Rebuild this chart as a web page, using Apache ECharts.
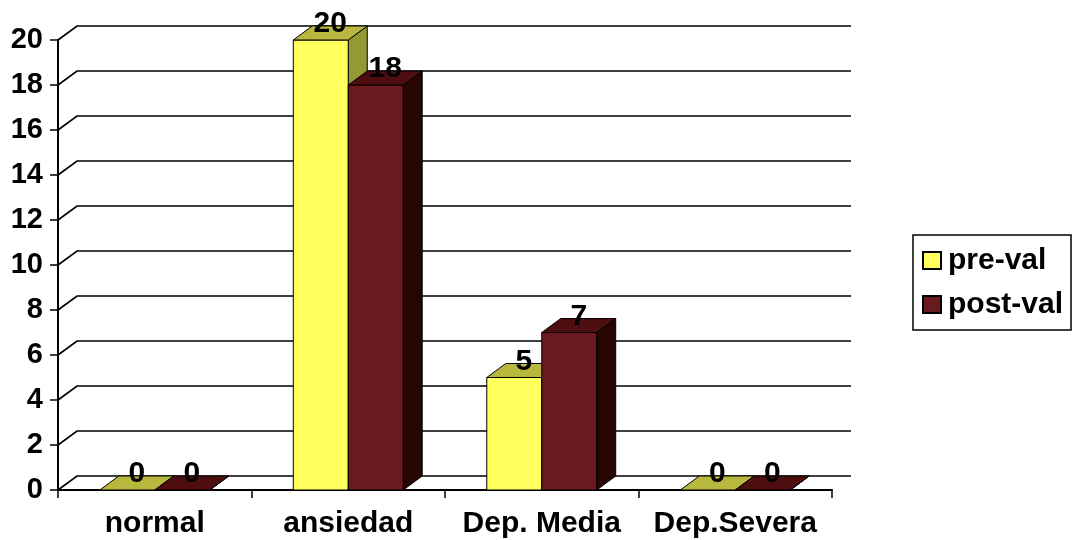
<!DOCTYPE html>
<html>
<head>
<meta charset="utf-8">
<script src="https://cdn.jsdelivr.net/npm/echarts@6/dist/echarts.min.js"></script>
<style>
  html, body { margin: 0; padding: 0; background: #fff; }
  #chart { width: 1074px; height: 540px; }
</style>
</head>
<body>
<div id="chart"></div>
<script>
// Categories and values
const categories = ['normal', 'ansiedad', 'Dep. Media', 'Dep.Severa'];
const preVal = [0, 20, 5, 0];
const postVal = [0, 18, 7, 0];
const yTicks = [0, 2, 4, 6, 8, 10, 12, 14, 16, 18, 20];
const seriesNames = ['pre-val', 'post-val'];

// Depth of the pseudo-3D box (screen offset of the back plane)
const DX = 19, DY = -14;
const FONT = '"Liberation Sans", Arial, sans-serif';

const faces = {
  'pre-val':  { front: '#FFFF5E', top: '#B9B83E', side: '#939A34' },
  'post-val': { front: '#6A1A1E', top: '#4E0E10', side: '#280505' }
};

function barRenderer(name, side) {
  const c = faces[name];
  return function (params, api) {
    const idx = api.value(0), v = api.value(1);
    const base = api.coord([idx, 0]);
    const top = api.coord([idx, v]);
    const band = api.size([1, 0])[0];
    const w = band * 0.284;
    const x0 = side === 0 ? base[0] - w : base[0];
    const x1 = x0 + w;
    const yb = base[1], yt = top[1];
    const stroke = { stroke: '#000', lineWidth: 1 };
    return {
      type: 'group',
      children: [
        { type: 'polygon', shape: { points: [[x1, yb], [x1 + DX, yb + DY], [x1 + DX, yt + DY], [x1, yt]] },
          style: Object.assign({ fill: c.side }, stroke) },
        { type: 'rect', shape: { x: x0, y: yt, width: w, height: yb - yt },
          style: Object.assign({ fill: c.front }, stroke) },
        { type: 'polygon', shape: { points: [[x0, yt], [x0 + DX, yt + DY], [x1 + DX, yt + DY], [x1, yt]] },
          style: Object.assign({ fill: c.top }, stroke) },
        { type: 'text', z2: 10,
          style: { x: (x0 + x1) / 2 + DX / 2, y: yt + DY / 2 + 6, text: String(v),
                   fill: '#000', font: 'bold 30px ' + FONT, align: 'center', verticalAlign: 'bottom' } }
      ]
    };
  };
}

// Back-wall grid lines with their diagonal return to the value axis
function gridRenderer(params, api) {
  const v = api.value(1);
  const y = api.coord([0, v])[1];
  const cs = params.coordSys;
  return {
    type: 'polyline', silent: true,
    shape: { points: [[cs.x, y], [cs.x + DX, y + DY], [cs.x + cs.width + DX, y + DY]] },
    style: { stroke: '#000', lineWidth: 1.7, fill: null }
  };
}

const chart = echarts.init(document.getElementById('chart'));
chart.setOption({
  animation: false,
  backgroundColor: '#fff',
  grid: { left: 58, right: 242, top: 40, bottom: 50 },
  legend: {
    data: seriesNames,
    orient: 'vertical',
    left: 913, top: 235,
    padding: [9, 8, 9, 9],
    itemGap: 11,
    itemWidth: 18, itemHeight: 17,
    icon: 'rect',
    borderColor: '#000', borderWidth: 1.5,
    textStyle: { fontFamily: FONT, fontWeight: 'bold', fontSize: 30, color: '#000', lineHeight: 33, padding: [0, 0, 0, 2] }
  },
  xAxis: {
    type: 'category',
    data: categories,
    axisLine: { lineStyle: { color: '#000', width: 2 } },
    axisTick: { show: true, length: 8, lineStyle: { color: '#000', width: 1.5 } },
    axisLabel: { interval: 0, color: '#000', fontFamily: FONT, fontWeight: 'bold', fontSize: 30, margin: 19 },
    splitLine: { show: false }
  },
  yAxis: {
    type: 'value',
    min: 0, max: 20, interval: 2,
    axisLine: { show: true, lineStyle: { color: '#000', width: 2 } },
    axisTick: { show: true, length: 8, lineStyle: { color: '#000', width: 1.5 } },
    axisLabel: { color: '#000', fontFamily: FONT, fontWeight: 'bold', fontSize: 29, margin: 15 },
    splitLine: { show: false }
  },
  series: [
    { type: 'custom', name: 'grid', renderItem: gridRenderer, silent: true, z: 1,
      data: yTicks.map(t => [0, t]), encode: { x: 0, y: 1 } },
    { type: 'custom', name: seriesNames[0], renderItem: barRenderer(seriesNames[0], 0), z: 2,
      itemStyle: { color: faces['pre-val'].front, borderColor: '#000', borderWidth: 1 },
      data: preVal.map((v, i) => [i, v]), encode: { x: 0, y: 1 } },
    { type: 'custom', name: seriesNames[1], renderItem: barRenderer(seriesNames[1], 1), z: 3,
      itemStyle: { color: faces['post-val'].front, borderColor: '#000', borderWidth: 1 },
      data: postVal.map((v, i) => [i, v]), encode: { x: 0, y: 1 } }
  ]
});
</script>
</body>
</html>
